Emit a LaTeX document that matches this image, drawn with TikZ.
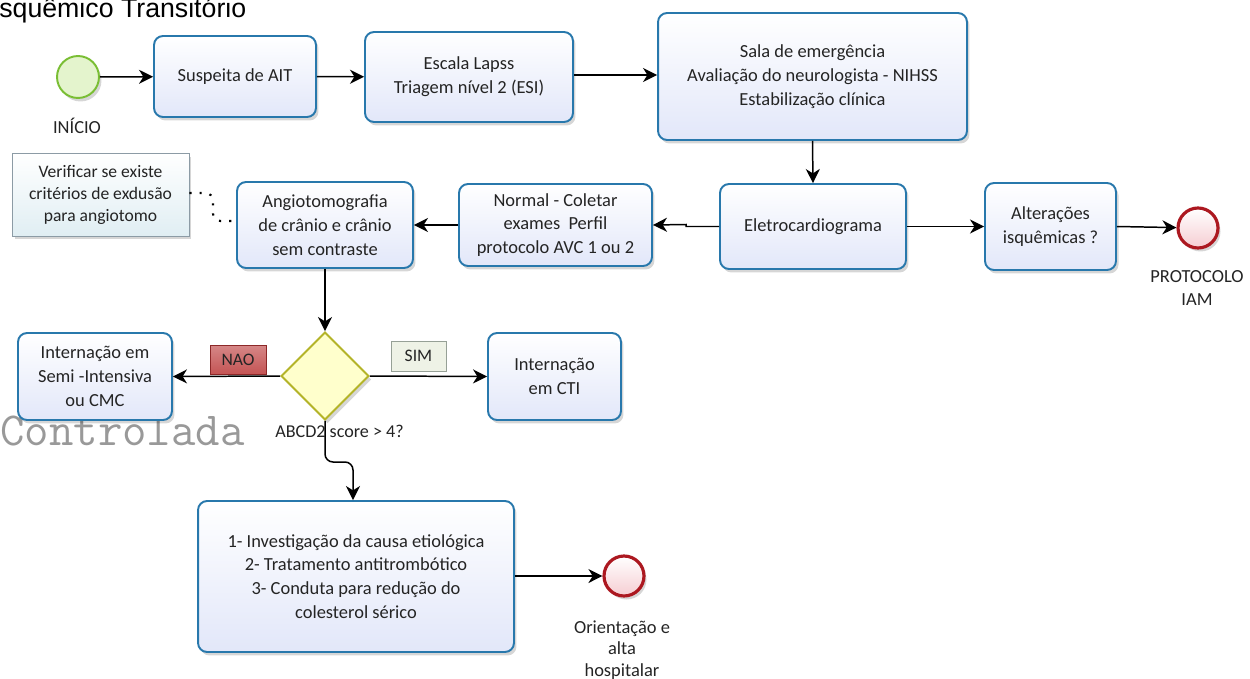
\documentclass[tikz,border=0pt]{standalone}
\usepackage{fontspec}
\setmainfont{Carlito}
\newfontfamily\arialf{Liberation Sans}
\usetikzlibrary{arrows.meta,shapes.geometric,shadows}
\definecolor{boxborder}{RGB}{40,120,172}
\definecolor{boxfill}{RGB}{226,231,249}
\definecolor{txt}{RGB}{36,36,36}
\definecolor{startborder}{RGB}{122,190,52}
\definecolor{startfill}{RGB}{228,244,205}
\definecolor{endborder}{RGB}{172,24,32}
\definecolor{endfill}{RGB}{246,205,210}
\definecolor{diaborder}{RGB}{180,180,40}
\definecolor{diafill}{RGB}{255,255,204}
\definecolor{naofill}{RGB}{196,84,84}
\definecolor{naoborder}{RGB}{140,40,40}
\definecolor{simfill}{RGB}{238,242,230}
\definecolor{simborder}{RGB}{150,160,150}
\definecolor{notefill}{RGB}{224,238,243}
\definecolor{noteborder}{RGB}{140,155,165}
\tikzset{
  shad/.style={drop shadow={shadow xshift=0.05cm, shadow yshift=-0.07cm, opacity=0.16, fill=black}},
  task/.style={shad, draw=boxborder, line width=1.1pt, rounded corners=0.18cm,
    top color=white, bottom color=boxfill, align=center, text=txt, inner sep=2pt,
    font=\fontsize{10.5}{13.6}\selectfont},
  startev/.style={shad, circle, draw=startborder, line width=1.1pt, fill=startfill, minimum size=0.84cm, inner sep=0},
  endev/.style={shad, circle, draw=endborder, line width=1.8pt, top color=white, bottom color=endfill, minimum size=0.80cm, inner sep=0},
  gate/.style={shad, diamond, aspect=1, draw=diaborder, line width=1.1pt, fill=diafill, minimum size=1.76cm, inner sep=0},
  lbl/.style={align=center, text=txt, inner sep=0, font=\fontsize{10.5}{13}\selectfont},
  flow/.style={line width=0.85pt, -{Stealth[length=8pt, width=8pt, inset=2.5pt]}},
  assoc/.style={line width=1.2pt, dash pattern=on 1.2pt off 4.6pt, rounded corners=0.15cm},
}
\begin{document}
\begin{tikzpicture}[x=0.02cm, y=-0.02cm]
\useasboundingbox (0,0) rectangle (1250,679);

% title and watermark
\node[anchor=base west, inner sep=0, font=\arialf\fontsize{15.2}{17}\selectfont] (title) at (-1,18) {squêmico Transitório};
\node[anchor=base west, inner sep=0, font=\ttfamily\fontsize{27}{28}\selectfont, text=black!40] (ctrl) at (0,445) {Controlada};

% events
\node[startev] (start) at (78,77) {};
\node[lbl] (lstart) at (77,126) {INÍCIO};
\node[endev] (iam) at (1198,228) {};
\node[lbl] (liam) at (1197,288) {PROTOCOLO\\IAM};
\node[endev] (alta) at (624,576) {};
\node[lbl, font=\fontsize{10.5}{12.2}\selectfont] (lalta) at (622,650) {Orientação e\\alta\\hospitalar};

% tasks
\node[task, minimum width=3.24cm, minimum height=1.62cm] (susp) at (235,76.5) {Suspeita de AIT};
\node[task, minimum width=4.16cm, minimum height=1.8cm] (escala) at (469,77) {Escala Lapss\\Triagem nível 2 (ESI)};
\node[task, minimum width=6.18cm, minimum height=2.54cm] (sala) at (812.5,76.5) {Sala de emergência\\Avaliação do neurologista - NIHSS\\Estabilização clínica};
\node[task, minimum width=3.72cm, minimum height=1.7cm] (eletro) at (813,226.5) {Eletrocardiograma};
\node[task, minimum width=3.86cm, minimum height=1.64cm] (normal) at (555.5,225) {Normal - Coletar\\exames\ \ Perfil\\protocolo AVC 1 ou 2};
\node[task, minimum width=3.52cm, minimum height=1.72cm] (angio) at (325,225) {Angiotomografia\\de crânio e crânio\\sem contraste};
\node[task, minimum width=2.62cm, minimum height=1.74cm] (alter) at (1050.5,226.5) {Alterações\\isquêmicas ?};
\node[task, minimum width=3.08cm, minimum height=1.74cm] (semi) at (95,376.5) {Internação em\\Semi -Intensiva\\ou CMC};
\node[task, minimum width=2.66cm, minimum height=1.74cm] (cti) at (554.5,376.5) {Internação\\em CTI};
\node[task, minimum width=6.32cm, minimum height=3.02cm] (final) at (356,576.5) {1- Investigação da causa etiológica\\2- Tratamento antitrombótico\\3- Conduta para redução do\\colesterol sérico};

% annotation
\node[shad, draw=noteborder, line width=0.5pt, top color=white, bottom color=notefill, minimum width=3.54cm, minimum height=1.66cm, align=center, text=txt, font=\fontsize{10}{12.5}\selectfont] (note) at (100.5,194.5) {Verificar se existe\\critérios de exdusão\\para angiotomo};

% gateway
\node[gate] (gw) at (325,376) {};
\node[lbl, anchor=west, font=\fontsize{10.3}{11}\selectfont] (lgw) at (275,431) {ABCD2 score > 4?};

% condition labels
\node[draw=naoborder, line width=0.5pt, top color=naofill!70, bottom color=naofill, minimum width=1.12cm, minimum height=0.58cm, inner sep=0, text=txt, font=\fontsize{10}{12}\selectfont] (nao) at (238,359.5) {NAO};
\node[draw=simborder, line width=0.5pt, fill=simfill, minimum width=1.1cm, minimum height=0.6cm, inner sep=0, text=txt, font=\fontsize{10}{12}\selectfont] (sim) at (418.5,356) {SIM};

% helper coordinates
\coordinate (jog) at (686,0);
\coordinate (bend1) at (325,462);
\coordinate (bend2) at (353,462);
\coordinate (n1) at (213,0);
\coordinate (n2) at (0,221);

% flows
\draw[flow] (start) -- (susp);
\draw[flow] (susp) -- (escala);
\draw[flow] (escala.east |- 0,75) -- (sala.west |- 0,75);
\draw[flow] (sala.south) -- (eletro.north);
\draw[flow] (eletro.west) -- (eletro.west -| jog) -- ++(0,-2) -- (normal.east);
\draw[flow] (normal.west) -- (angio.east);
\draw[flow] (eletro.east) -- (alter.west);
\draw[flow] (alter.east) -- (iam);
\draw[flow] (angio.south) -- (gw.north);
\draw[flow] (gw.west) -- (semi.east);
\draw[flow] (gw.east) -- (cti.west);
\draw[flow, rounded corners=0.16cm] (gw.south) -- (bend1) -- (bend2) -- (bend2 |- final.north);
\draw[flow] (final.east |- alta) -- (alta);

% association
\draw[assoc] (note.east |- 0,193) -- (n1 |- 0,193) -- (n1 |- n2) -- (angio.west |- n2);
\end{tikzpicture}
\end{document}
